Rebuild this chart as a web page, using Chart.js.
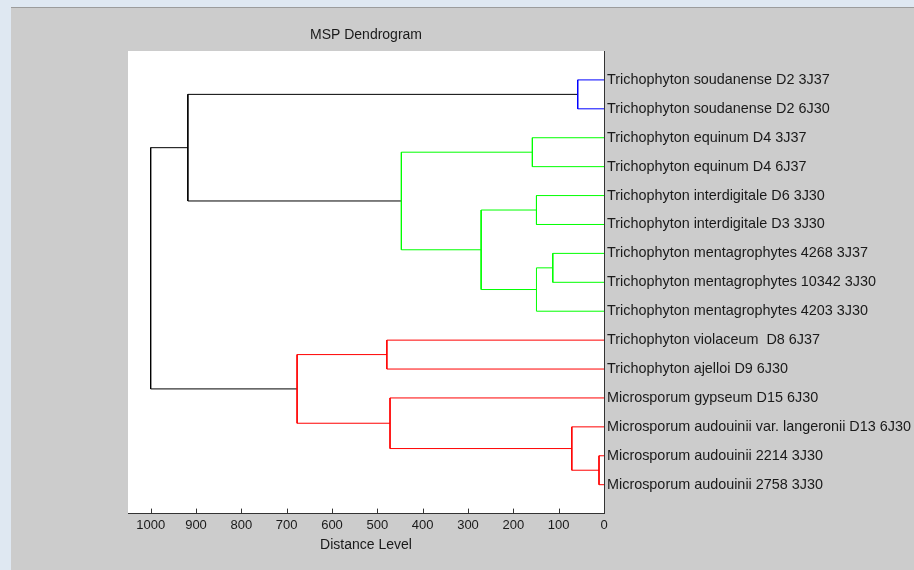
<!DOCTYPE html>
<html>
<head>
<meta charset="utf-8">
<script src="https://cdn.jsdelivr.net/npm/chart.js@4/dist/chart.umd.min.js"></script>
<style>
  html, body { margin: 0; padding: 0; width: 914px; height: 570px; overflow: hidden; background: #dfe8f2; }
  #frame {
    position: absolute; left: 11px; top: 7px; width: 903px; height: 563px;
    background: #cccccc; border-top: 1px solid #9c9c9c; box-sizing: border-box;
  }
  #wrap { position: absolute; left: 0; top: 0; width: 903px; height: 562px; }
</style>
</head>
<body>
<div id="frame"><div id="wrap"><canvas id="dendro"></canvas></div></div>
<script>
// Leaves in display order, top to bottom.
const leafLabels = [
    "Trichophyton soudanense D2 3J37",
    "Trichophyton soudanense D2 6J30",
    "Trichophyton equinum D4 3J37",
    "Trichophyton equinum D4 6J37",
    "Trichophyton interdigitale D6 3J30",
    "Trichophyton interdigitale D3 3J30",
    "Trichophyton mentagrophytes 4268 3J37",
    "Trichophyton mentagrophytes 10342 3J30",
    "Trichophyton mentagrophytes 4203 3J30",
    "Trichophyton violaceum  D8 6J37",
    "Trichophyton ajelloi D9 6J30",
    "Microsporum gypseum D15 6J30",
    "Microsporum audouinii var. langeronii D13 6J30",
    "Microsporum audouinii 2214 3J30",
    "Microsporum audouinii 2758 3J30",
];

// Linkage: each merge joins two nodes (leaves 0..14, then new clusters 15, 16, ...).
const mergeLeft   = [13,  0, 12,   6,   8,   4,   2,  20,  21,  11,   9,  25,  16,   27];
const mergeRight  = [14,  1, 15,   7,  18,   5,   3,  19,  22,  17,  10,  24,  23,   26];
const mergeHeight = [11, 58, 71, 113, 149, 149, 158, 271, 447, 472, 479, 677, 918, 1000];
const mergeColor  = ["#ff0000", "#0000ff", "#ff0000", "#00ff00", "#00ff00", "#00ff00", "#00ff00",
                     "#00ff00", "#00ff00", "#ff0000", "#ff0000", "#ff0000", "#000000", "#000000"];

const xTicks = [0, 100, 200, 300, 400, 500, 600, 700, 800, 900, 1000];

// Build one U-shaped line per merge; cluster row = mean of its two children.
const nodeY = leafLabels.map((_, i) => i);
const nodeH = leafLabels.map(() => 0);
const datasets = [];
mergeLeft.forEach((a, k) => {
    const b = mergeRight[k], h = mergeHeight[k];
    datasets.push({
        data: [
            { x: nodeH[a], y: nodeY[a] },
            { x: h, y: nodeY[a] },
            { x: h, y: nodeY[b] },
            { x: nodeH[b], y: nodeY[b] },
        ],
        showLine: true,
        borderColor: mergeColor[k],
        borderWidth: 1,
        pointRadius: 0,
        tension: 0,
        fill: false,
    });
    nodeY.push((nodeY[a] + nodeY[b]) / 2);
    nodeH.push(h);
});

// Inward-pointing tick marks on the distance axis, like the original figure.
const innerTicks = {
    id: "innerTicks",
    afterDraw(chart) {
        const xs = chart.scales.x;
        const ctx = chart.ctx;
        const bottom = chart.chartArea.bottom;
        ctx.save();
        ctx.strokeStyle = "#333";
        ctx.lineWidth = 1;
        ctx.beginPath();
        xTicks.forEach((v) => {
            const px = Math.round(xs.getPixelForValue(v)) + 0.5;
            ctx.moveTo(px, bottom);
            ctx.lineTo(px, bottom - 5);
        });
        ctx.stroke();
        ctx.restore();
    },
};

const plotBg = {
    id: "plotBg",
    beforeDraw(chart) {
        const a = chart.chartArea;
        chart.ctx.save();
        chart.ctx.fillStyle = "#ffffff";
        chart.ctx.fillRect(a.left, a.top, a.right - a.left, a.bottom - a.top);
        chart.ctx.restore();
    },
};

const textColor = "#1a1a1a";
const font = "'Liberation Sans', Arial, sans-serif";

new Chart(document.getElementById("dendro"), {
    type: "scatter",
    data: { datasets: datasets },
    plugins: [plotBg, innerTicks],
    options: {
        responsive: true,
        maintainAspectRatio: false,
        animation: false,
        events: [],
        layout: { padding: { left: 117, right: 0, top: 0, bottom: 16 } },
        plugins: {
            legend: { display: false },
            tooltip: { enabled: false },
            title: {
                display: true,
                text: "MSP Dendrogram",
                fullSize: false,
                color: textColor,
                font: { family: font, size: 14, weight: "normal", lineHeight: "15px" },
                padding: { top: 20, bottom: 8 },
            },
        },
        scales: {
            x: {
                type: "linear",
                position: "bottom",
                reverse: true,
                min: 0,
                max: 1050,
                afterBuildTicks: (s) => { s.ticks = xTicks.map((v) => ({ value: v })); },
                grid: { display: false, drawTicks: false },
                border: { display: true, color: "#333", width: 1 },
                ticks: {
                    color: textColor,
                    padding: 4,
                    maxRotation: 0,
                    font: { family: font, size: 13, lineHeight: 1.2 },
                    callback: (v) => String(v),
                },
                title: {
                    display: true,
                    text: "Distance Level",
                    color: textColor,
                    font: { family: font, size: 14, lineHeight: 1.2 },
                    padding: { top: 0, bottom: 0 },
                },
            },
            y: {
                type: "linear",
                position: "right",
                reverse: true,
                min: -1,
                max: 15,
                afterBuildTicks: (s) => { s.ticks = leafLabels.map((_, i) => ({ value: i })); },
                afterFit: (s) => { s.width = 310; },
                grid: { display: false, drawTicks: false },
                border: { display: true, color: "#333", width: 1 },
                ticks: {
                    color: textColor,
                    padding: 3,
                    autoSkip: false,
                    font: { family: font, size: 14.4 },
                    callback: (v) => leafLabels[v] ?? "",
                },
            },
        },
    },
});
</script>
</body>
</html>
